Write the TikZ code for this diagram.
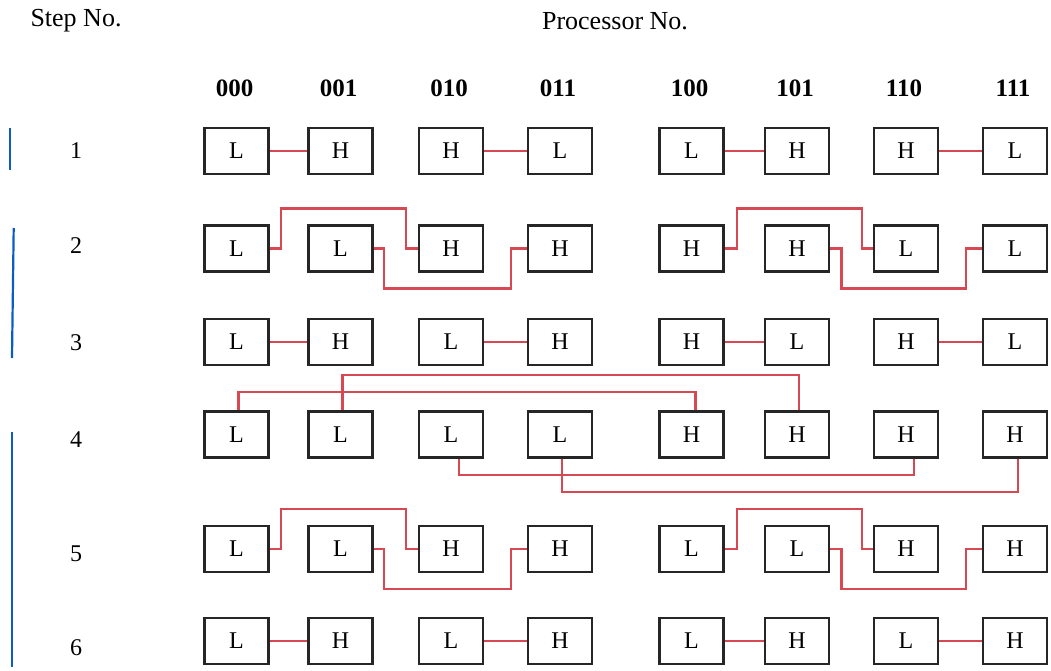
\documentclass[tikz,border=0pt]{standalone}
\usepackage{fontspec}
\setmainfont{Liberation Serif}
\definecolor{linkred}{RGB}{214,72,82}
\definecolor{markblue}{RGB}{12,92,200}
\begin{document}
\begin{tikzpicture}[x=1pt,y=-1pt,
  proc/.style={draw=black!85,line width=2.8pt,fill=white,minimum width=64pt,minimum height=46pt,
    inner sep=0pt,font=\fontsize{24}{26}\selectfont},
  link/.style={draw=linkred,line width=2.2pt},
  colhead/.style={font=\fontsize{25}{28}\selectfont\bfseries},
  stepno/.style={font=\fontsize{24}{26}\selectfont},
  title/.style={font=\fontsize{26}{28}\selectfont},
  marker/.style={draw=markblue,line width=2.2pt}]
\useasboundingbox (0,0) rectangle (1051,671);

% headings
\node[title] (steptitle) at (76,21) {Step No.};
\node[title] (proctitle) at (615,21) {Processor No.};

% column centres
\def\cols{236.5,340.5,451,560,691.5,797,906,1015}
\foreach \lab [count=\c] in {000,001,010,011,100,101,110,111}{
  \pgfmathsetmacro\cx{{\cols}[\c-1]-2}
  \node[colhead] (h\c) at (\cx,88) {\lab};
}

% step numbers
\foreach \s/\y in {1/151,2/246,3/343,4/440,5/554,6/648}{
  \node[stepno] (s\s) at (76,\y) {\s};
}

% processor boxes, one row per step
\foreach \r/\y/\labs in {
  1/151/{L,H,H,L,L,H,H,L},
  2/248.5/{L,L,H,H,H,H,L,L},
  3/342/{L,H,L,H,H,L,H,L},
  4/434.5/{L,L,L,L,H,H,H,H},
  5/549/{L,L,H,H,L,L,H,H},
  6/641/{L,H,L,H,L,H,L,H}}{
  \foreach \lab [count=\c] in \labs {
    \pgfmathsetmacro\cx{{\cols}[\c-1]}
    \node[proc] (r\r c\c) at (\cx,\y) {\lab};
  }
}

% steps 1, 3, 6: neighbouring pairs
\foreach \r in {1,3,6}{
  \foreach \a/\b in {1/2,3/4,5/6,7/8}{
    \draw[link] (r\r c\a.east) -- (r\r c\b.west);
  }
}

% steps 2 and 5: distance-two exchanges inside each half
\foreach \r in {2,5}{
  \draw[link] (r\r c1.east) -- ++(11,0) -- ++(0,-40) -| ([xshift=-12pt]r\r c3.west) -- (r\r c3.west);
  \draw[link] (r\r c2.east) -- ++(10,0) -- ++(0,40) -| ([xshift=-16pt]r\r c4.west) -- (r\r c4.west);
  \draw[link] (r\r c5.east) -- ++(12,0) -- ++(0,-40) -| ([xshift=-11pt]r\r c7.west) -- (r\r c7.west);
  \draw[link] (r\r c6.east) -- ++(11,0) -- ++(0,40) -| ([xshift=-16pt]r\r c8.west) -- (r\r c8.west);
}

% step 4: distance-four exchanges across the halves
\draw[link] ([xshift=2pt]r4c1.north) -- ++(0,-18) -| ([xshift=4pt]r4c5.north);
\draw[link] ([xshift=2pt]r4c2.north) -- ++(0,-35) -| ([xshift=2pt]r4c6.north);
\draw[link] ([xshift=8pt]r4c3.south) -- ++(0,16) -| ([xshift=8pt]r4c7.south);
\draw[link] ([xshift=2pt]r4c4.south) -- ++(0,33) -| ([xshift=3pt]r4c8.south);

% bars grouping the steps
\coordinate (b1t) at (10,128); \coordinate (b1b) at (10,170);
\coordinate (b2t) at (13.7,228); \coordinate (b2b) at (12,358);
\coordinate (b3t) at (12,432); \coordinate (b3b) at (12,667);
\draw[marker] (b1t) -- (b1b);
\draw[marker] (b2t) -- (b2b);
\draw[marker] (b3t) -- (b3b);
\end{tikzpicture}
\end{document}
